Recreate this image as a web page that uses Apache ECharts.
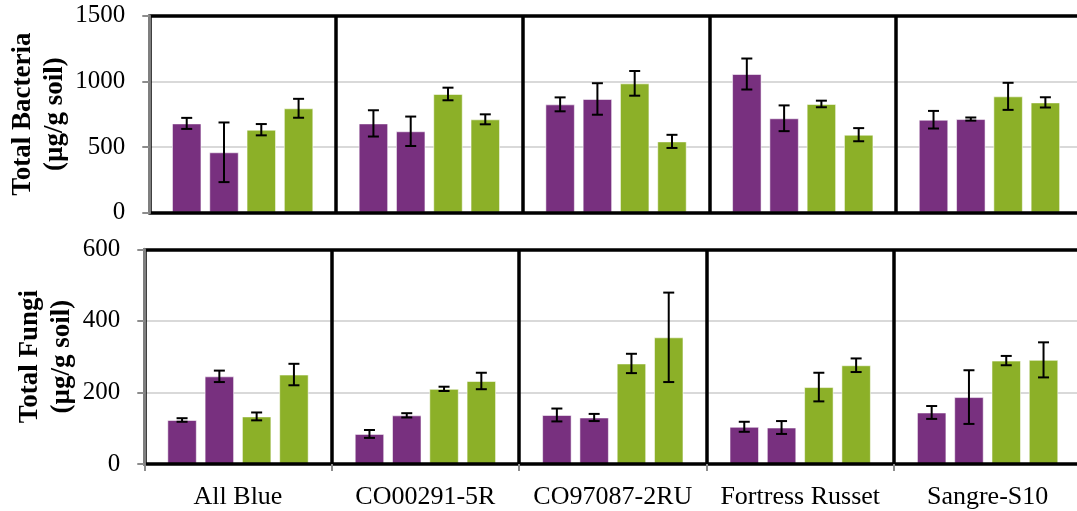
<!DOCTYPE html>
<html>
<head>
<meta charset="utf-8">
<script src="https://cdn.jsdelivr.net/npm/echarts@6/dist/echarts.min.js"></script>
<style>
  html, body { margin: 0; padding: 0; background: #fff; }
  #chart { width: 1077px; height: 511px; }
</style>
</head>
<body>
<div id="chart"></div>
<script>
// Potato cultivars on the shared category axis
const categories = ['All Blue', 'CO00291-5R', 'CO97087-2RU', 'Fortress Russet', 'Sangre-S10'];

// Total bacteria (µg/g soil): means and standard errors, four treatments per cultivar
const bacteria1 = [680, 680, 825, 1056, 708];
const bacteria2 = [460, 620, 866, 719, 713];
const bacteria3 = [632, 904, 985, 828, 886];
const bacteria4 = [795, 711, 543, 594, 840];
const bacteriaErr1 = [42, 100, 53, 118, 67];
const bacteriaErr2 = [227, 112, 120, 98, 12];
const bacteriaErr3 = [43, 48, 94, 25, 103];
const bacteriaErr4 = [72, 38, 50, 50, 39];

// Total fungi (µg/g soil)
const fungi1 = [123, 84, 137, 104, 144];
const fungi2 = [245, 136, 130, 102, 187];
const fungi3 = [133, 210, 281, 215, 289];
const fungi4 = [250, 232, 354, 276, 291];
const fungiErr1 = [5, 11, 18, 14, 18];
const fungiErr2 = [16, 6, 10, 18, 75];
const fungiErr3 = [11, 6, 27, 40, 13];
const fungiErr4 = [30, 23, 125, 19, 49];

// Axis ticks
const bacteriaTicks = { min: 0, max: 1500, interval: 500 };
const fungiTicks = { min: 0, max: 600, interval: 200 };

const PURPLE = '#78307f';
const GREEN = '#8cb028';
const colors = [PURPLE, PURPLE, GREEN, GREEN];
const FONT = 'Liberation Serif';
const BAR_W = 29.5;
const BAR_GAP = 0.264;      // fraction of bar width between neighbouring bars
const STEP = BAR_W * (1 + BAR_GAP);
const FRAME_W = 3.5;

const chart = echarts.init(document.getElementById('chart'), null, { renderer: 'canvas' });

function errorRenderer(k) {
  const offset = (k - 1.5) * STEP;
  return function (params, api) {
    const lo = api.coord([api.value(0), api.value(1)]);
    const hi = api.coord([api.value(0), api.value(2)]);
    const x = lo[0] + offset;
    const cap = 5.5;
    const style = { stroke: '#000', lineWidth: 2 };
    return {
      type: 'group',
      children: [
        { type: 'line', shape: { x1: x, y1: lo[1], x2: x, y2: hi[1] }, style },
        { type: 'line', shape: { x1: x - cap, y1: hi[1], x2: x + cap, y2: hi[1] }, style },
        { type: 'line', shape: { x1: x - cap, y1: lo[1], x2: x + cap, y2: lo[1] }, style }
      ]
    };
  };
}

function panelSeries(means, errs, panel) {
  const out = [];
  means.forEach((m, k) => {
    out.push({
      type: 'bar',
      xAxisIndex: panel * 2,
      yAxisIndex: panel * 2,
      data: m,
      barWidth: BAR_W,
      barGap: (BAR_GAP * 100) + '%',
      itemStyle: { color: colors[k], borderColor: 'rgba(255,255,255,0.55)', borderWidth: 1 },
      silent: true,
      z: 2
    });
  });
  errs.forEach((e, k) => {
    out.push({
      type: 'custom',
      xAxisIndex: panel * 2,
      yAxisIndex: panel * 2,
      renderItem: errorRenderer(k),
      data: e.map((v, i) => [i, means[k][i] - v, means[k][i] + v]),
      encode: { x: 0, y: [1, 2] },
      silent: true,
      z: 4
    });
  });
  return out;
}

function bottomAxis(gridIndex, withLabels) {
  return {
    type: 'category',
    gridIndex,
    data: categories,
    position: 'bottom',
    boundaryGap: true,
    axisLine: { show: true, onZero: false, lineStyle: { color: '#000', width: FRAME_W } },
    axisTick: { show: withLabels, interval: 0, length: 7, lineStyle: { color: '#8c8c8c', width: 2 } },
    axisLabel: {
      show: withLabels, interval: 0, margin: 20,
      fontFamily: FONT, fontSize: 26, color: '#000'
    },
    splitLine: { show: true, interval: 0, lineStyle: { color: '#000', width: FRAME_W } },
    z: 3
  };
}

function topAxis(gridIndex) {
  return {
    type: 'category',
    gridIndex,
    data: categories,
    position: 'top',
    axisLine: { show: true, onZero: false, lineStyle: { color: '#000', width: FRAME_W } },
    axisTick: { show: false },
    axisLabel: { show: false },
    splitLine: { show: false },
    z: 3
  };
}

// Left value axis: line, ticks, labels and title (drawn above the frame)
function valueAxis(gridIndex, ticks, name, nameGap) {
  return {
    type: 'value',
    gridIndex,
    position: 'left',
    min: ticks.min,
    max: ticks.max,
    interval: ticks.interval,
    name,
    nameLocation: 'middle',
    nameRotate: 90,
    nameGap,
    nameMoveOverlap: false,
    nameTextStyle: { fontFamily: FONT, fontSize: 27, fontWeight: 'bold', color: '#000', lineHeight: 32 },
    axisLine: { show: true, lineStyle: { color: '#7f7f7f', width: 3 } },
    axisTick: { show: true, length: 7, lineStyle: { color: '#8c8c8c', width: 2 } },
    axisLabel: {
      margin: 24, fontFamily: FONT, fontSize: 25, color: '#000',
      formatter: (v) => String(v)
    },
    splitLine: { show: false },
    z: 5
  };
}

// Companion axis on the same scale that only carries the light gridlines, under everything
function gridlineAxis(gridIndex, ticks) {
  return {
    type: 'value',
    gridIndex,
    position: 'right',
    min: ticks.min,
    max: ticks.max,
    interval: ticks.interval,
    axisLine: { show: false },
    axisTick: { show: false },
    axisLabel: { show: false },
    splitLine: { show: true, lineStyle: { color: '#d9d9d9', width: 2 } },
    z: 1
  };
}

const option = {
  animation: false,
  backgroundColor: '#fff',
  grid: [
    { left: 149.3, top: 15.7, width: 933.5, height: 197, outerBoundsMode: 'none', containLabel: false },
    { left: 144.3, top: 249.3, width: 937, height: 214.7, outerBoundsMode: 'none', containLabel: false }
  ],
  xAxis: [bottomAxis(0, false), topAxis(0), bottomAxis(1, true), topAxis(1)],
  yAxis: [
    valueAxis(0, bacteriaTicks, 'Total Bacteria\n(µg/g soil)', 78),
    gridlineAxis(0, bacteriaTicks),
    valueAxis(1, fungiTicks, 'Total Fungi\n(µg/g soil)', 66),
    gridlineAxis(1, fungiTicks)
  ],
  series: [
    ...panelSeries([bacteria1, bacteria2, bacteria3, bacteria4],
                   [bacteriaErr1, bacteriaErr2, bacteriaErr3, bacteriaErr4], 0),
    ...panelSeries([fungi1, fungi2, fungi3, fungi4],
                   [fungiErr1, fungiErr2, fungiErr3, fungiErr4], 1)
  ]
};

chart.setOption(option);
</script>
</body>
</html>
